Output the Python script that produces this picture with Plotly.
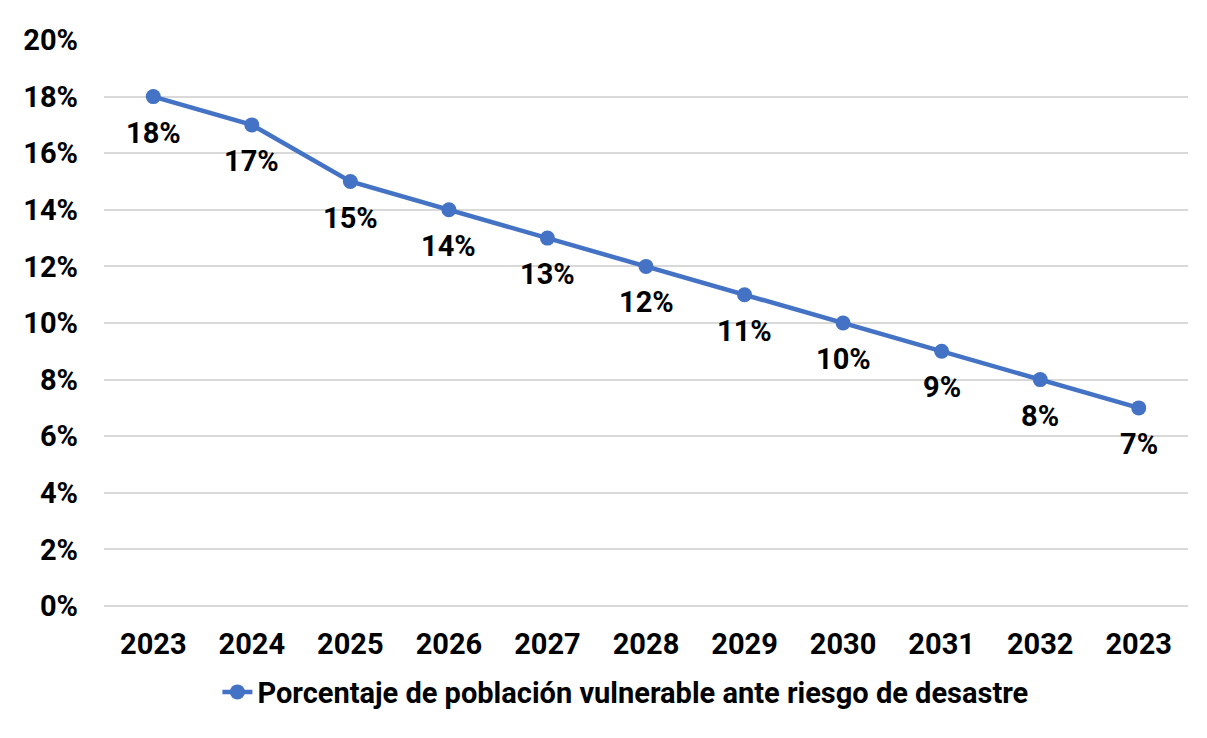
import plotly.graph_objects as go

categories = ["2023", "2024", "2025", "2026", "2027", "2028", "2029", "2030", "2031", "2032", "2023"]
values = [18, 17, 15, 14, 13, 12, 11, 10, 9, 8, 7]
series_name = "Porcentaje de población vulnerable ante riesgo de desastre"
y_ticks = [0, 2, 4, 6, 8, 10, 12, 14, 16, 18, 20]

idx = list(range(len(categories)))
color = "#4472C4"
font_family = "Roboto, Arial, sans-serif"
fs = 29

fig = go.Figure()
fig.add_trace(go.Scatter(
    x=idx, y=values, mode="lines+markers", name=series_name,
    line=dict(color=color, width=4.5),
    marker=dict(color=color, size=15),
))

for i, v in zip(idx, values):
    fig.add_annotation(x=i, y=v, text=f"<b>{v}%</b>", showarrow=False,
                       yshift=-36, font=dict(size=fs, color="black", family=font_family))

fig.update_layout(
    width=1207, height=738,
    paper_bgcolor="white", plot_bgcolor="white",
    margin=dict(l=96, r=27, t=32, b=140),
    font=dict(family=font_family, size=fs, color="black"),
    showlegend=True,
    legend=dict(orientation="h", x=0.481, xanchor="center", y=-0.152, yanchor="middle",
                font=dict(size=fs, family=font_family, color="black", weight="bold")),
    xaxis=dict(
        range=[-0.5, len(categories) - 0.5],
        tickvals=idx, ticktext=[f"<b>{c}</b>" for c in categories],
        showgrid=False, zeroline=False, showline=False, ticks="",
        tickfont=dict(size=fs), ticklabelstandoff=18,
    ),
    yaxis=dict(
        range=[0, 20], tickvals=y_ticks, ticktext=[f"<b>{t}%</b>" for t in y_ticks],
        showgrid=True, gridcolor="#d9d9d9", gridwidth=2,
        zeroline=True, zerolinecolor="#d9d9d9", zerolinewidth=2,
        showline=False, ticks="", tickfont=dict(size=fs), ticklabelstandoff=25,
    ),
)

fig.write_html("out.html")
